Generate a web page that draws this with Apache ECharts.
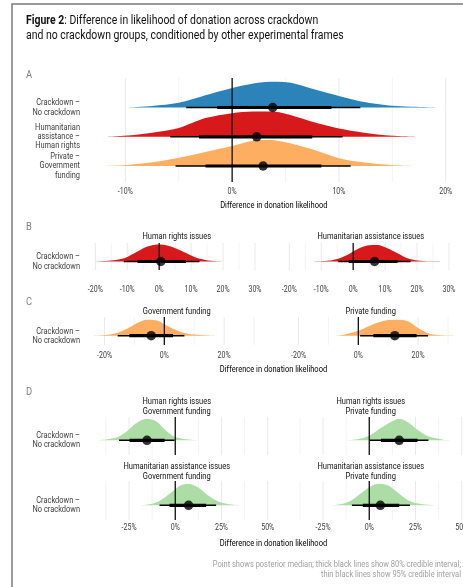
<!DOCTYPE html>
<html>
<head>
<meta charset="utf-8">
<script src="https://cdn.jsdelivr.net/npm/echarts@6/dist/echarts.min.js"></script>
<style>
html, body { margin: 0; padding: 0; background: #fff; }
#chart { width: 463px; height: 587px; }
</style>
</head>
<body>
<div id="chart"></div>
<script>
var FONT = "Roboto, sans-serif";

// ---- labels ----
var rowsA = ['Crackdown –\nNo crackdown', 'Humanitarian\nassistance –\nHuman rights', 'Private –\nGovernment\nfunding'];
var rowLabel = 'Crackdown –\nNo crackdown';
var stripsB = ['Human rights issues', 'Humanitarian assistance issues'];
var stripsC = ['Government funding', 'Private funding'];
var stripsD = ['Human rights issues\nGovernment funding', 'Human rights issues\nPrivate funding',
               'Humanitarian assistance issues\nGovernment funding', 'Humanitarian assistance issues\nPrivate funding'];
var axisTitle = 'Difference in donation likelihood';

// ---- ticks (percent) ----
var ticksA = [-10, 0, 10, 20], minorA = [-5, 5, 15];
var ticksB = [-20, -10, 0, 10, 20, 30], minorB = [-15, -5, 5, 15, 25];
var ticksC = [-20, 0, 20], minorC = [-10, 10, 30];
var ticksD = [-25, 0, 25, 50], minorD = [-37.5, -12.5, 12.5, 37.5];

// ---- posterior densities: [difference %, relative height] ----
var densA_crackdown = [[-10,0],[-7.5,0.06],[-5,0.18],[-2.5,0.47],[0,0.75],[2,0.92],[3.75,1],[5.5,0.95],[7.5,0.72],[10,0.44],[12.2,0.22],[15,0.065],[18.4,0.01],[20,0]];
var densA_humanitarian = [[-12.1,0],[-9.7,0.05],[-7.5,0.16],[-5,0.34],[-2.5,0.72],[0,0.91],[1.9,0.97],[3.75,0.97],[5.6,0.82],[7.5,0.58],[10,0.32],[12.2,0.17],[15,0.04],[17.9,0]];
var densA_private = [[-12.2,0],[-9.7,0.04],[-7.5,0.14],[-5,0.32],[-2.5,0.54],[0,0.77],[1.9,0.97],[3.4,1],[5.6,0.86],[7.5,0.64],[10,0.3],[12.2,0.14],[15,0.03],[17.7,0]];
var densB_rights = [[-20.5,0],[-15.2,0.06],[-11,0.19],[-6.8,0.58],[-3.7,0.87],[0,1],[3.7,0.87],[7.9,0.54],[12.1,0.19],[16.3,0.04],[19.9,0]];
var densB_humanitarian = [[-12.9,0],[-8.2,0.04],[-5,0.15],[-1.9,0.38],[1.3,0.71],[4.4,0.92],[7.6,0.96],[10.7,0.77],[13.9,0.48],[17,0.19],[20,0.06],[24,0.01],[31.8,0]];
var densC_gov = [[-23.9,0],[-20,0.04],[-15.6,0.18],[-12.2,0.45],[-8.9,0.8],[-5.6,1],[-2.2,0.92],[1.1,0.59],[4.4,0.31],[7.8,0.12],[12.2,0.04],[17.2,0]];
var densC_private = [[-7.8,0],[-4.4,0.08],[0,0.3],[3.3,0.57],[6.7,0.81],[10,0.96],[13.3,1],[16.7,0.87],[20,0.47],[23.3,0.15],[26.7,0.04],[32.2,0]];
var densD_rightsGov = [[-43.5,0],[-36.4,0.05],[-31,0.15],[-25.6,0.46],[-21,0.8],[-15.7,1],[-10.2,0.88],[-5.8,0.51],[-1.3,0.2],[3.2,0.08],[8.6,0.02],[12.2,0]];
var densD_rightsPriv = [[-11.7,0],[-4.5,0.08],[0.9,0.26],[6.3,0.57],[11.7,0.85],[16.2,1],[20.7,0.85],[26.1,0.49],[31.5,0.2],[36.9,0.08],[40,0.03],[46,0]];
var densD_humGov = [[-19.2,0],[-13,0.06],[-7.6,0.25],[-2.2,0.59],[2.3,0.9],[6.8,1],[12.2,0.84],[17.6,0.47],[23,0.19],[28.4,0.06],[35.6,0]];
var densD_humPriv = [[-21.2,0],[-14.9,0.06],[-9.5,0.24],[-4.1,0.58],[0.4,0.86],[4.9,1],[10.3,0.92],[15.6,0.58],[21,0.23],[26.4,0.08],[33.7,0.01],[37.2,0]];

// ---- medians and credible intervals (percent) ----
var medA = [3.8, 2.3, 2.9], lo80A = [-1.4, -3.1, -2.5], hi80A = [9.3, 7.5, 8.35], lo95A = [-4.3, -5.8, -5.3], hi95A = [12.0, 10.35, 11.1];
var medB = [0.5, 6.7], lo80B = [-6.8, -1.4], hi80B = [8.4, 13.9], lo95B = [-11.1, -4.7], hi95B = [12.6, 18.0];
var medC = [-4.4, 12.2], lo80C = [-11.7, 5.0], hi80C = [2.9, 19.5], lo95C = [-15.6, 0.6], hi95C = [6.7, 23.3];
var medD = [-15.3, 16.2, 7.2, 6.0], lo80D = [-24.7, 6.3, -3.1, -3.5], hi80D = [-5.8, 26.1, 16.7, 16.2], lo95D = [-30.4, 0.3, -8.5, -9.4], hi95D = [-0.4, 32.0, 22.1, 22.0];

var BLUE = '#2b83ba', RED = '#d7191c', ORANGE = '#fdae61', GREEN = '#abdda4';

var grids = [], xAxes = [], yAxes = [], series = [], graphics = [];

function gridRender(params, api) {
	var major = api.value(1) === 1;
	var p0 = api.coord([api.value(0), 0]), p1 = api.coord([api.value(0), 1]);
	return { type: 'line', shape: { x1: p0[0], y1: p0[1], x2: p1[0], y2: p1[1] },
		style: { stroke: major ? '#e6e6e6' : '#eeeeee', lineWidth: major ? 0.9 : 0.7 } };
}
function zeroRender(params, api) {
	var p0 = api.coord([0, 0]), p1 = api.coord([0, 1]);
	return { type: 'line', shape: { x1: p0[0], y1: p0[1], x2: p1[0], y2: p1[1] },
		style: { stroke: '#111', lineWidth: 1.3 } };
}
function intervalRender(params, api) {
	var p0 = api.coord([api.value(0), 0]), p1 = api.coord([api.value(1), 0]);
	return { type: 'line', shape: { x1: p0[0], y1: p0[1], x2: p1[0], y2: p1[1] },
		style: { stroke: '#000', lineWidth: params.dataIndex === 0 ? 1.4 : 3.2 } };
}

// background of a facet: gridlines, zero line, tick labels
function addBackground(left, width, top, height, xmin, xmax, major, minor, labelOffset) {
	var gi = grids.length;
	grids.push({ left: left, top: top, width: width, height: height });
	xAxes.push({ type: 'value', gridIndex: gi, min: xmin, max: xmax, show: false });
	yAxes.push({ type: 'value', gridIndex: gi, min: 0, max: 1, show: false });
	series.push({
		type: 'custom', xAxisIndex: gi, yAxisIndex: gi, z: 1, silent: true,
		data: major.map(function (v) { return [v, 1]; }).concat(minor.map(function (v) { return [v, 0]; })),
		renderItem: gridRender
	});
	series.push({
		type: 'custom', xAxisIndex: gi, yAxisIndex: gi, z: 3, silent: true,
		data: [[0, 0]], renderItem: zeroRender
	});
	if (labelOffset != null) {
		// tick labels, placed through the axis scale
		series.push({
			type: 'custom', xAxisIndex: gi, yAxisIndex: gi, z: 3, silent: true,
			data: major.map(function (v) { return [v, 0]; }),
			renderItem: function (params, api) {
				var v = api.value(0), p = api.coord([v, 0]);
				return { type: 'text', x: p[0], y: p[1] + labelOffset, scaleX: 0.74,
					style: { text: v + '%', align: 'center', verticalAlign: 'middle',
						fill: '#3d3d3d', fontSize: 9.5, fontFamily: FONT } };
			}
		});
	}
}

// one half-eye: density slab + intervals + median point
function addRow(left, width, base, H, xmin, xmax, label, labelGap, dens, color, med, lo80, hi80, lo95, hi95) {
	var gi = grids.length;
	grids.push({ left: left, top: base - H, width: width, height: H * 1.5 });
	xAxes.push({ type: 'value', gridIndex: gi, min: xmin, max: xmax, show: false });
	yAxes.push({ type: 'value', gridIndex: gi, min: -0.5, max: 1, show: false });
	series.push({
		type: 'line', xAxisIndex: gi, yAxisIndex: gi, z: 2, silent: true,
		data: dens, smooth: 0.3, symbol: 'none',
		lineStyle: { width: 0 }, areaStyle: { color: color, opacity: 1 }
	});
	series.push({
		type: 'custom', xAxisIndex: gi, yAxisIndex: gi, z: 4, silent: true,
		data: [[lo95, hi95], [lo80, hi80]], renderItem: intervalRender
	});
	series.push({
		type: 'scatter', xAxisIndex: gi, yAxisIndex: gi, z: 5, silent: true,
		data: [[med, 0]], symbolSize: 9.5, itemStyle: { color: '#000' }
	});
	if (label) {
		series.push({
			type: 'custom', xAxisIndex: gi, yAxisIndex: gi, z: 3, silent: true,
			data: [[xmin, 0]],
			renderItem: function (params, api) {
				var p = api.coord([api.value(0), api.value(1)]);
				return { type: 'text', x: p[0] - labelGap, y: p[1], scaleX: 0.76,
					style: { text: label, align: 'right', verticalAlign: 'middle', lineHeight: 9.2,
						fill: '#3d3d3d', fontSize: 9.8, fontFamily: FONT } };
			}
		});
	}
}

function text(x, y, str, opts, sx) {
	var s = { text: str, fill: '#111', fontSize: 9.5, fontFamily: FONT, align: 'center', verticalAlign: 'middle', lineHeight: 9.3 };
	for (var k in opts) s[k] = opts[k];
	graphics.push({ type: 'text', x: x, y: y, scaleX: sx || 0.79, silent: true, style: s });
}

// ---- panel A ----
var aLeft = 97.6, aWidth = 352.4, aMin = -12.6, aMax = 20.4;
addBackground(aLeft, aWidth, 78, 104, aMin, aMax, ticksA, minorA, 10);
var basesA = [107.5, 136.8, 166];
var densA = [densA_crackdown, densA_humanitarian, densA_private];
var colorsA = [BLUE, RED, ORANGE];
for (var i = 0; i < 3; i++) {
	addRow(aLeft, aWidth, basesA[i], 26, aMin, aMax, rowsA[i], 17.6, densA[i], colorsA[i], medA[i], lo80A[i], hi80A[i], lo95A[i], hi95A[i]);
}

// ---- facet columns for B, C, D ----
var colLeft = [84.5, 278.5], facetW = 184.5;

// B
var bMin = -23.4, bMax = 34.4;
var densB = [densB_rights, densB_humanitarian];
for (var c = 0; c < 2; c++) {
	addBackground(colLeft[c], facetW, 243, 27, bMin, bMax, ticksB, minorB, 20);
	addRow(colLeft[c], facetW, 261.5, 17.3, bMin, bMax, c === 0 ? rowLabel : null, 4.5, densB[c], RED, medB[c], lo80B[c], hi80B[c], lo95B[c], hi95B[c]);
	text(colLeft[c] + facetW / 2, 237, stripsB[c]);
}

// C
var cMin = -26.7, cMax = 35;
var densC = [densC_gov, densC_private];
for (c = 0; c < 2; c++) {
	addBackground(colLeft[c], facetW, 317, 28, cMin, cMax, ticksC, minorC, 11);
	addRow(colLeft[c], facetW, 335.7, 16.3, cMin, cMax, c === 0 ? rowLabel : null, 4.5, densC[c], ORANGE, medC[c], lo80C[c], hi80C[c], lo95C[c], hi95C[c]);
	text(colLeft[c] + facetW / 2, 312, stripsC[c]);
}

// D (2 x 2)
var dMin = -49.1, dMax = 50.7;
var densD = [densD_rightsGov, densD_rightsPriv, densD_humGov, densD_humPriv];
var dTop = [417, 481], dH = [38, 39], dBase = [440.3, 505.3], dStrip = [406.5, 471.5];
for (var r = 0; r < 2; r++) {
	for (c = 0; c < 2; c++) {
		var k = r * 2 + c;
		addBackground(colLeft[c], facetW, dTop[r], dH[r], dMin, dMax, ticksD, minorD, r === 1 ? 8 : null);
		addRow(colLeft[c], facetW, dBase[r], 21.5, dMin, dMax, c === 0 ? rowLabel : null, 4.5, densD[k], GREEN, medD[k], lo80D[k], hi80D[k], lo95D[k], hi95D[k]);
		text(colLeft[c] + facetW / 2, dStrip[r], stripsD[k]);
	}
}

// ---- titles, panel letters, captions, frame ----
graphics.push({ type: 'polyline', silent: true, shape: { points: [[12, 587], [12, 4], [463, 4]] },
	style: { stroke: '#7a7a7a', lineWidth: 1.5, fill: null } });
graphics.push({ type: 'text', x: 26, y: 21, scaleX: 0.836, silent: true, style: {
	text: '{b|Figure 2}{n|: Difference in likelihood of donation across crackdown}',
	align: 'left', verticalAlign: 'middle',
	rich: { b: { fontWeight: 'bold', fontSize: 12.5, fontFamily: FONT, fill: '#111' },
	        n: { fontSize: 12.5, fontFamily: FONT, fill: '#111' } } } });
text(26, 36, 'and no crackdown groups, conditioned by other experimental frames', { align: 'left', fontSize: 12.5 }, 0.836);

var letters = ['A', 'B', 'C', 'D'], letterY = [75, 227, 302, 392];
for (i = 0; i < 4; i++) text(26, letterY[i], letters[i], { align: 'left', fontSize: 11, fill: '#7f7f7f' }, 0.85);

text(aLeft + aWidth / 2, 206, axisTitle, { fill: '#000' });
text(273.5, 370, axisTitle, { fill: '#000' });
text(273.5, 544, axisTitle, { fill: '#000' });

text(461, 565, 'Point shows posterior median; thick black lines show 80% credible interval;', { align: 'right', fill: '#a0a0a0' });
text(461, 574.5, 'thin black lines show 95% credible interval', { align: 'right', fill: '#a0a0a0' });

var chart = echarts.init(document.getElementById('chart'), null, { renderer: 'canvas' });
chart.setOption({
	animation: false,
	backgroundColor: '#fff',
	textStyle: { fontFamily: FONT },
	grid: grids,
	xAxis: xAxes,
	yAxis: yAxes,
	series: series,
	graphic: graphics
});
</script>
</body>
</html>
